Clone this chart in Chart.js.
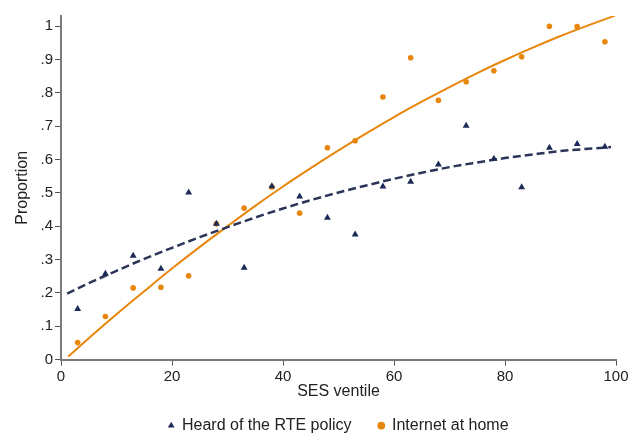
<!DOCTYPE html>
<html>
<head>
<meta charset="utf-8">
<script src="https://cdn.jsdelivr.net/npm/chart.js@4.4.1/dist/chart.umd.min.js"></script>
<style>
  html, body { margin: 0; padding: 0; background: #fff; }
  #wrap { width: 640px; height: 437px; position: relative; }
</style>
</head>
<body>
<div id="wrap"><canvas id="chart"></canvas></div>
<script>
// SES ventile midpoints
var ventiles = [3, 8, 13, 18, 23, 28, 33, 38, 43, 48, 53, 58, 63, 68, 73, 78, 83, 88, 93, 98];

// share who heard of the RTE policy
var heardRTE = [0.152, 0.257, 0.311, 0.272, 0.501, 0.407, 0.275, 0.520, 0.489, 0.425,
                0.375, 0.519, 0.533, 0.585, 0.701, 0.602, 0.517, 0.635, 0.646, 0.638];

// share with internet at home
var internetHome = [0.051, 0.129, 0.215, 0.217, 0.251, 0.407, 0.454, 0.517, 0.439, 0.635,
                    0.656, 0.787, 0.905, 0.777, 0.833, 0.866, 0.908, 0.999, 0.998, 0.953];

// fitted curves
var rteFitX = [1.1, 5, 10, 15, 20, 25, 30, 35, 40, 45, 50, 55, 60, 65, 70, 75, 80, 85, 90, 95, 99.1];
var rteFitY = [0.198, 0.229, 0.266, 0.302, 0.335, 0.367, 0.397, 0.426, 0.453, 0.478, 0.501,
               0.522, 0.542, 0.560, 0.577, 0.591, 0.604, 0.615, 0.625, 0.632, 0.637];

var netFitX = [1.3, 5, 10, 15, 20, 25, 30, 35, 40, 45, 50, 55, 60, 65, 70, 75, 80, 85, 90, 95, 99.8];
var netFitY = [0.009, 0.064, 0.136, 0.205, 0.273, 0.338, 0.400, 0.461, 0.519, 0.574, 0.627,
               0.678, 0.727, 0.773, 0.817, 0.859, 0.898, 0.935, 0.970, 1.002, 1.031];

var yTickLabels = {0: '0', 0.1: '.1', 0.2: '.2', 0.3: '.3', 0.4: '.4', 0.5: '.5',
                   0.6: '.6', 0.7: '.7', 0.8: '.8', 0.9: '.9', 1: '1'};

var navy = '#1c2a57';
var navyLine = '#2b3558';
var orange = '#e8860c';
var axisGrey = '#7a7a7a';
var font = 'Liberation Sans, Arial, sans-serif';

function pairs(xs, ys) {
    return xs.map(function (x, i) { return {x: x, y: ys[i]}; });
}

new Chart(document.getElementById('chart'), {
    type: 'scatter',
    data: {
        datasets: [{
            label: 'Heard of the RTE policy',
            data: pairs(ventiles, heardRTE),
            pointStyle: 'triangle',
            pointRadius: 4,
            backgroundColor: navy,
            borderColor: navy,
            borderWidth: 0
        }, {
            label: 'Internet at home',
            data: pairs(ventiles, internetHome),
            pointStyle: 'circle',
            pointRadius: 2.8,
            backgroundColor: orange,
            borderColor: orange,
            borderWidth: 0
        }, {
            label: 'fit1',
            data: pairs(rteFitX, rteFitY),
            showLine: true,
            pointRadius: 0,
            borderColor: navyLine,
            borderWidth: 2.5,
            borderDash: [8, 4],
            cubicInterpolationMode: 'monotone',
            fill: false
        }, {
            label: 'fit2',
            data: pairs(netFitX, netFitY),
            showLine: true,
            pointRadius: 0,
            borderColor: orange,
            borderWidth: 2,
            cubicInterpolationMode: 'monotone',
            fill: false
        }]
    },
    options: {
        responsive: true,
        maintainAspectRatio: false,
        animation: false,
        layout: { padding: { left: 0, right: 24, top: 16, bottom: -6.6 } },
        plugins: {
            tooltip: { enabled: false },
            legend: {
                position: 'bottom',
                fullSize: false,
                labels: {
                    usePointStyle: true,
                    boxWidth: 5.5,
                    boxHeight: 5.5,
                    padding: 27,
                    color: '#222',
                    font: { family: font, size: 16 },
                    filter: function (item) { return item.text.indexOf('fit') !== 0; }
                }
            }
        },
        scales: {
            x: {
                type: 'linear',
                min: 0,
                max: 100,
                afterFit: function (scale) { scale.height = 31; },
                grid: { drawOnChartArea: false, drawTicks: true, tickLength: 6, color: '#555' },
                border: { color: axisGrey, width: 2 },
                ticks: { stepSize: 20, color: '#222', padding: 2, font: { family: font, size: 15 } },
                title: { display: true, text: 'SES ventile', color: '#222', padding: { top: 0, bottom: -10.2 },
                         font: { family: font, size: 16 } }
            },
            y: {
                min: 0,
                max: 1.03,
                afterFit: function (scale) { scale.width = 61; },
                afterBuildTicks: function (scale) {
                    scale.ticks = Object.keys(yTickLabels).map(function (v) { return {value: +v}; });
                },
                grid: { drawOnChartArea: false, drawTicks: true, tickLength: 6, color: '#555' },
                border: { color: axisGrey, width: 2 },
                ticks: {
                    color: '#222',
                    padding: 2,
                    font: { family: font, size: 15 },
                    callback: function (v) { return yTickLabels[v]; }
                },
                title: { display: true, text: 'Proportion', color: '#222', padding: { top: 13, bottom: 0 },
                         font: { family: font, size: 16 } }
            }
        }
    }
});
</script>
</body>
</html>
